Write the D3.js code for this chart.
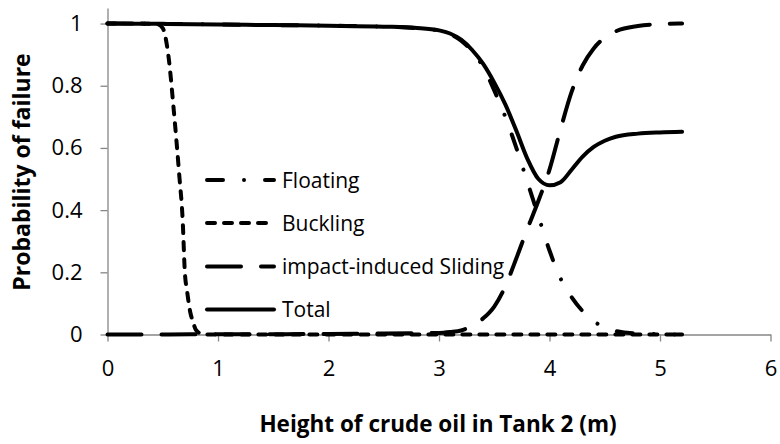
<!DOCTYPE html>
<html>
<head>
<meta charset="utf-8">
<script src="https://cdn.jsdelivr.net/npm/d3@7"></script>
<style>
  html, body { margin: 0; padding: 0; background: #fff; }
  svg { display: block; }
  text { font-family: "Open Sans", "Noto Sans", sans-serif; fill: #000; }
</style>
</head>
<body>
<svg id="chart" width="780" height="444"></svg>
<script>
// ---- data ----
const xGrid = [0, 0.5, 1, 1.5, 2, 2.5, 2.8, 3.0, 3.1, 3.2, 3.3, 3.4, 3.5, 3.6, 3.7, 3.8, 3.9, 4.0, 4.1, 4.2, 4.3, 4.4, 4.5, 4.6, 4.8, 5.0, 5.2];
const floating = [1, 0.999, 0.997, 0.995, 0.993, 0.99, 0.985, 0.977, 0.966, 0.945, 0.91, 0.86, 0.785, 0.70, 0.60, 0.49, 0.38, 0.27, 0.18, 0.12, 0.075, 0.043, 0.022, 0.011, 0.003, 0.001, 0];
const sliding = [0, 0, 0.001, 0.001, 0.002, 0.003, 0.004, 0.005, 0.008, 0.013, 0.028, 0.052, 0.09, 0.155, 0.245, 0.34, 0.43, 0.53, 0.66, 0.78, 0.865, 0.92, 0.955, 0.975, 0.992, 0.998, 1.0];
const total = [1, 0.999, 0.997, 0.995, 0.993, 0.99, 0.986, 0.978, 0.968, 0.948, 0.915, 0.87, 0.81, 0.74, 0.655, 0.565, 0.5, 0.48, 0.49, 0.53, 0.572, 0.603, 0.623, 0.636, 0.646, 0.65, 0.652];
const xBuckling = [0, 0.3, 0.45, 0.5, 0.55, 0.6, 0.65, 0.68, 0.7, 0.72, 0.75, 0.77, 0.8, 0.85, 0.9, 1.5, 2, 3, 4, 5, 5.2];
const buckling = [1, 1, 0.998, 0.985, 0.90, 0.72, 0.51, 0.37, 0.20, 0.14, 0.07, 0.045, 0.015, 0.002, 0, 0, 0, 0, 0, 0, 0];

const seriesNames = ["Floating", "Buckling", "impact-induced Sliding", "Total"];
const xTicks = [0, 1, 2, 3, 4, 5, 6];
const yTicks = [0, 0.2, 0.4, 0.6, 0.8, 1];
const xTitle = "Height of crude oil in Tank 2 (m)";
const yTitle = "Probability of failure";

// ---- layout ----
const svg = d3.select("#chart");
const x = d3.scaleLinear().domain([0, 6]).range([107.5, 770.5]);
const y = d3.scaleLinear().domain([0, 1.05]).range([334.5, 8]);

const axisColor = "#868686";

// y axis
const gy = svg.append("g").attr("transform", `translate(${x(0)},0)`)
  .call(d3.axisLeft(y).tickValues(yTicks).tickSize(7).tickSizeOuter(0).tickPadding(18)
    .tickFormat(d => String(+d.toFixed(1))));
gy.select(".domain").attr("stroke", axisColor).attr("stroke-width", 1.3);
gy.selectAll(".tick line").attr("stroke", axisColor).attr("stroke-width", 1.3);
gy.selectAll(".tick text").style("font-size", "22px").attr("fill", "#000");

// x axis
const gx = svg.append("g").attr("transform", `translate(0,${y(0)})`)
  .call(d3.axisBottom(x).tickValues(xTicks).tickSize(7).tickSizeOuter(0).tickPadding(19)
    .tickFormat(d3.format("d")));
gx.select(".domain").attr("stroke", axisColor).attr("stroke-width", 1.3);
gx.selectAll(".tick line").attr("stroke", axisColor).attr("stroke-width", 1.3);
gx.selectAll(".tick text").style("font-size", "22px").attr("fill", "#000");

// titles
svg.append("text").attr("x", 438).attr("y", 432).attr("text-anchor", "middle")
  .style("font-size", "22.5px").style("font-weight", "bold").text(xTitle);
svg.append("text").attr("transform", "translate(30,172) rotate(-90)").attr("text-anchor", "middle")
  .style("font-size", "23px").style("font-weight", "bold").text(yTitle);

// ---- series ----
const styles = [
  { dash: "16 21 0.01 21" },
  { dash: "8 9" },
  { dash: "34 20" },
  { dash: null }
];
const seriesData = [
  xGrid.map((v, i) => [v, floating[i]]),
  xBuckling.map((v, i) => [v, buckling[i]]),
  xGrid.map((v, i) => [v, sliding[i]]),
  xGrid.map((v, i) => [v, total[i]])
];
const line = d3.line().x(d => x(d[0])).y(d => y(d[1])).curve(d3.curveMonotoneX);

const plot = svg.append("g");
seriesData.forEach((data, i) => {
  const p = plot.append("path").datum(data)
    .attr("d", line)
    .attr("fill", "none")
    .attr("stroke", "#000")
    .attr("stroke-width", 4)
    .attr("stroke-linecap", "round")
    .attr("stroke-linejoin", "round");
  if (styles[i].dash) p.attr("stroke-dasharray", styles[i].dash);
});

// ---- legend ----
const legendRowsY = [180, 223, 266.5, 309.5];
const legend = svg.append("g");
seriesNames.forEach((name, i) => {
  const ly = legendRowsY[i];
  const l = legend.append("line")
    .attr("x1", 207).attr("x2", 274).attr("y1", ly).attr("y2", ly)
    .attr("stroke", "#000").attr("stroke-width", 4).attr("stroke-linecap", "round");
  if (styles[i].dash) l.attr("stroke-dasharray", styles[i].dash);
  legend.append("text").attr("x", 282).attr("y", ly).attr("dy", "0.36em")
    .style("font-size", "21px").text(name);
});
</script>
</body>
</html>
